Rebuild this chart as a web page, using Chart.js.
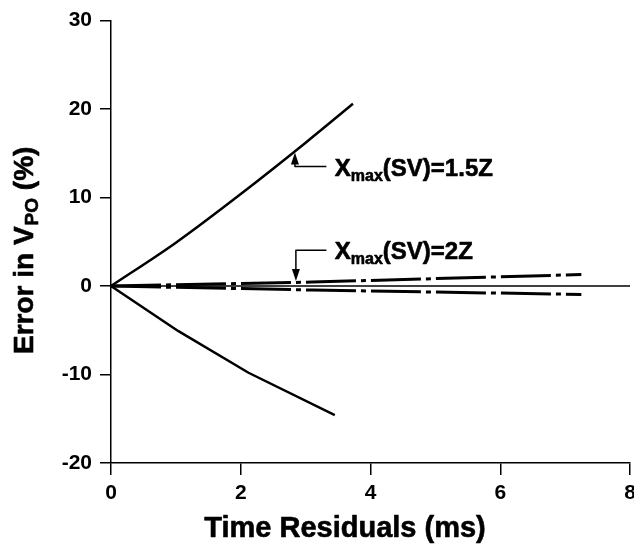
<!DOCTYPE html>
<html>
<head>
<meta charset="utf-8">
<script src="https://cdn.jsdelivr.net/npm/chart.js@4/dist/chart.umd.min.js"></script>
<style>
html,body{margin:0;padding:0;background:#fff;}
#wrap{width:634px;height:546px;position:relative;}
</style>
</head>
<body>
<div id="wrap"><canvas id="c" width="634" height="546"></canvas></div>
<script>
// ---- data ----
const xTicks = [0, 2, 4, 6, 8];
const yTicks = [-20, -10, 0, 10, 20, 30];
const sv15UpperX = [0, 1.0, 2.0, 3.0, 3.73];
const sv15UpperY = [0, 4.9, 10.4, 16.2, 20.6];
const sv15LowerX = [0, 1.04, 2.12, 3.45];
const sv15LowerY = [0, -5.1, -9.8, -14.6];
const sv2UpperX = [0, 3.1, 7.25];
const sv2UpperY = [0, 0.45, 1.3];
const sv2LowerX = [0, 3.1, 7.25];
const sv2LowerY = [0, -0.45, -0.95];
const zeroLineX = [0, 8];
const zeroLineY = [0, 0];
const labels = ['1.5Z', '2Z'];
// annotation anchors (data units): arrow x, tip y, leader y, leader end x, text x, text baseline y
const annoArrowX = [2.835, 2.85];
const annoTipY = [15.1, 0.56];
const annoLeaderY = [13.5, 4.05];
const annoLeaderEndX = [3.32, 3.32];
const annoTextX = [3.45, 3.45];
const annoTextY = [12.4, 3.04];

const pts = (xs, ys) => xs.map((x, i) => ({x: x, y: ys[i]}));
const FONT = '"Liberation Sans", Arial, Helvetica, sans-serif';

function boldText(ctx, s, x, y) {
  ctx.fillText(s, x, y);
  ctx.lineWidth = 0.6;
  ctx.strokeText(s, x, y);
}

const textPlugin = {
  id: 'texts',
  afterDraw(chart) {
    const ctx = chart.ctx;
    const xs = chart.scales.x, ys = chart.scales.y;
    ctx.save();
    ctx.fillStyle = '#000';
    ctx.strokeStyle = '#000';
    ctx.lineJoin = 'round';
    // x title
    ctx.font = 'bold 29px ' + FONT;
    ctx.textAlign = 'center';
    ctx.textBaseline = 'alphabetic';
    boldText(ctx, 'Time Residuals (ms)', 345, 537);
    // y title (rotated) with subscript
    ctx.save();
    ctx.translate(33, 354);
    ctx.rotate(-Math.PI / 2);
    ctx.textAlign = 'left';
    ctx.font = 'bold 28px ' + FONT;
    let p = 0;
    const s1 = 'Error in V';
    boldText(ctx, s1, p, 0); p += ctx.measureText(s1).width;
    ctx.font = 'bold 19px ' + FONT;
    boldText(ctx, 'PO', p + 1, 5); p += ctx.measureText('PO').width + 1;
    ctx.font = 'bold 28px ' + FONT;
    boldText(ctx, ' (%)', p, 0);
    ctx.restore();
    // annotations
    for (let i = 0; i < labels.length; i++) {
      const ax = xs.getPixelForValue(annoArrowX[i]);
      const tipY = ys.getPixelForValue(annoTipY[i]);
      const ly = ys.getPixelForValue(annoLeaderY[i]);
      const lx2 = xs.getPixelForValue(annoLeaderEndX[i]);
      ctx.lineWidth = 1.5;
      ctx.beginPath();
      ctx.moveTo(lx2, ly);
      ctx.lineTo(ax, ly);
      const dir = tipY < ly ? -1 : 1;
      ctx.lineTo(ax, tipY - dir * 9);
      ctx.stroke();
      ctx.beginPath();
      ctx.moveTo(ax, tipY);
      ctx.lineTo(ax - 4, tipY - dir * 12);
      ctx.lineTo(ax + 4, tipY - dir * 12);
      ctx.closePath();
      ctx.fill();
      const tx = xs.getPixelForValue(annoTextX[i]);
      const ty = ys.getPixelForValue(annoTextY[i]);
      ctx.textAlign = 'left';
      ctx.font = 'bold 24px ' + FONT;
      let q = tx;
      boldText(ctx, 'X', q, ty); q += ctx.measureText('X').width;
      ctx.font = 'bold 16px ' + FONT;
      boldText(ctx, 'max', q, ty + 5); q += ctx.measureText('max').width;
      ctx.font = 'bold 24px ' + FONT;
      boldText(ctx, '(SV)=' + labels[i], q, ty);
    }
    ctx.restore();
  }
};

const solid = {borderColor: '#000', borderWidth: 2.5, pointRadius: 0, fill: false, tension: 0};
const dashdot = {borderColor: '#000', borderWidth: 3, pointRadius: 0, fill: false, tension: 0, borderDash: [50, 5, 5, 5]};

new Chart(document.getElementById('c'), {
  type: 'line',
  data: {
    datasets: [
      Object.assign({label: 'Xmax(SV)=1.5Z upper', data: pts(sv15UpperX, sv15UpperY)}, solid, {cubicInterpolationMode: 'monotone'}),
      Object.assign({label: 'Xmax(SV)=1.5Z lower', data: pts(sv15LowerX, sv15LowerY)}, solid),
      Object.assign({label: 'Xmax(SV)=2Z upper', data: pts(sv2UpperX, sv2UpperY)}, dashdot),
      Object.assign({label: 'Xmax(SV)=2Z lower', data: pts(sv2LowerX, sv2LowerY)}, dashdot),
      Object.assign({label: 'zero', data: pts(zeroLineX, zeroLineY)}, solid, {borderWidth: 1.5})
    ]
  },
  options: {
    responsive: false,
    animation: false,
    layout: {padding: {left: 0, top: 19, right: 4, bottom: 0}},
    plugins: {legend: {display: false}, tooltip: {enabled: false}},
    scales: {
      x: {
        type: 'linear', min: 0, max: 8,
        afterBuildTicks: s => { s.ticks = xTicks.map(v => ({value: v})); },
        afterFit: s => { s.height = 83; s.paddingRight = 0; s.paddingLeft = 0; },
        ticks: {color: '#000', font: {family: FONT, size: 21, weight: 'bold'}, padding: 6, maxRotation: 0},
        grid: {display: true, drawOnChartArea: false, drawTicks: true, tickLength: 12, color: '#000', lineWidth: 1.5},
        border: {display: true, color: '#000', width: 1.5}
      },
      y: {
        type: 'linear', min: -20, max: 30,
        afterBuildTicks: s => { s.ticks = yTicks.map(v => ({value: v})); },
        afterFit: s => { s.width = 111; },
        ticks: {color: '#000', font: {family: FONT, size: 21, weight: 'bold'}, padding: 8},
        grid: {display: true, drawOnChartArea: false, drawTicks: true, tickLength: 11, color: '#000', lineWidth: 1.5},
        border: {display: true, color: '#000', width: 1.5}
      }
    }
  },
  plugins: [textPlugin]
});
</script>
</body>
</html>
